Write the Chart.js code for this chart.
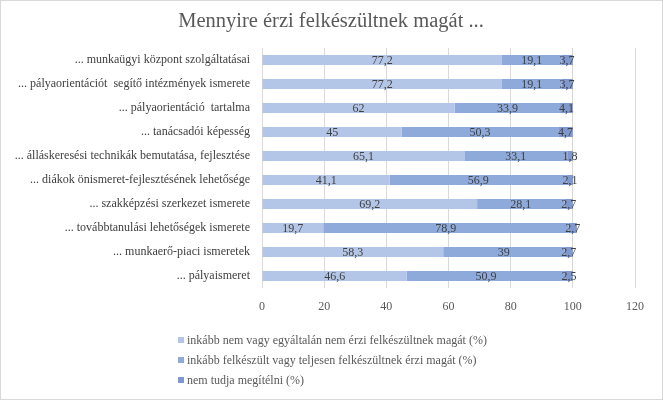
<!DOCTYPE html>
<html>
<head>
<meta charset="utf-8">
<script src="https://cdn.jsdelivr.net/npm/chart.js@4/dist/chart.umd.min.js"></script>
<style>
  html, body { margin: 0; padding: 0; background: #fff; }
  #wrap { width: 663px; height: 400px; position: relative; }
</style>
</head>
<body>
<div id="wrap"><canvas id="c" width="663" height="400"></canvas></div>
<script>
const titleText = 'Mennyire érzi felkészültnek magát ...';
const categories = [
  '... munkaügyi központ szolgáltatásai',
  '... pályaorientációt  segítő intézmények ismerete',
  '... pályaorientáció  tartalma',
  '... tanácsadói képesség',
  '... álláskeresési technikák bemutatása, fejlesztése',
  '... diákok önismeret-fejlesztésének lehetősége',
  '... szakképzési szerkezet ismerete',
  '... továbbtanulási lehetőségek ismerete',
  '... munkaerő-piaci ismeretek',
  '... pályaismeret'
];
const seriesNames = [
  'inkább nem vagy egyáltalán nem érzi felkészültnek magát (%)',
  'inkább felkészült vagy teljesen felkészültnek érzi magát (%)',
  'nem tudja megítélni (%)'
];
const notPrepared = [77.2, 77.2, 62, 45, 65.1, 41.1, 69.2, 19.7, 58.3, 46.6];
const prepared    = [19.1, 19.1, 33.9, 50.3, 33.1, 56.9, 28.1, 78.9, 39, 50.9];
const cannotTell  = [3.7, 3.7, 4.1, 4.7, 1.8, 2.1, 2.7, 2.7, 2.7, 2.5];
const xTicks = [0, 20, 40, 60, 80, 100, 120];

const colors = ['#b4c6e7', '#8eaadb', '#7f99cf'];
const FONT = "'Liberation Serif', 'Times New Roman', serif";

const valueLabels = {
  id: 'valueLabels',
  afterDatasetsDraw(chart) {
    const ctx = chart.ctx;
    ctx.save();
    ctx.font = '12px ' + FONT;
    ctx.fillStyle = '#404040';
    ctx.textAlign = 'center';
    ctx.textBaseline = 'middle';
    chart.data.datasets.forEach((ds, di) => {
      const meta = chart.getDatasetMeta(di);
      meta.data.forEach((bar, i) => {
        const v = ds.data[i];
        const p = bar.getProps(['x', 'y', 'base'], true);
        const cx = (p.x + p.base) / 2;
        ctx.fillText(String(v).replace('.', ','), cx, p.y + 1);
      });
    });
    ctx.restore();
  }
};

const decorations = {
  id: 'decorations',
  afterDraw(chart) {
    const ctx = chart.ctx;
    ctx.save();
    // title
    ctx.font = '20.5px ' + FONT;
    ctx.fillStyle = '#595959';
    ctx.textAlign = 'center';
    ctx.textBaseline = 'middle';
    ctx.fillText(titleText, 331, 22);
    // legend
    ctx.font = '12px ' + FONT;
    ctx.textAlign = 'left';
    const ys = [340, 360, 380];
    seriesNames.forEach((name, i) => {
      ctx.fillStyle = colors[i];
      ctx.fillRect(178, ys[i] - 3, 6, 6);
      ctx.fillStyle = '#595959';
      ctx.fillText(name, 187, ys[i] + 1);
    });
    // outer border
    ctx.strokeStyle = '#d9d9d9';
    ctx.lineWidth = 1;
    ctx.strokeRect(0.5, 0.5, chart.width - 1, chart.height - 1);
    ctx.restore();
  }
};

const bgPlugin = {
  id: 'bg',
  beforeDraw(chart) {
    const ctx = chart.ctx;
    ctx.save();
    ctx.fillStyle = '#ffffff';
    ctx.fillRect(0, 0, chart.width, chart.height);
    ctx.restore();
  }
};

new Chart(document.getElementById('c'), {
  type: 'bar',
  data: {
    labels: categories,
    datasets: [
      { label: seriesNames[0], data: notPrepared, backgroundColor: colors[0] },
      { label: seriesNames[1], data: prepared, backgroundColor: colors[1] },
      { label: seriesNames[2], data: cannotTell, backgroundColor: colors[2] }
    ]
  },
  options: {
    indexAxis: 'y',
    responsive: false,
    animation: false,
    devicePixelRatio: 1,
    layout: { padding: { left: 0, right: 28, top: 48, bottom: 86 } },
    datasets: { bar: { categoryPercentage: 0.42, barPercentage: 1, borderWidth: 0 } },
    plugins: {
      legend: { display: false },
      tooltip: { enabled: false },
      title: { display: false }
    },
    scales: {
      x: {
        stacked: true,
        min: 0,
        max: 120,
        afterBuildTicks(scale) { scale.ticks = xTicks.map(v => ({ value: v })); },
        afterFit(scale) { scale.height = 26; },
        grid: { color: '#d9d9d9', drawTicks: false },
        border: { display: false },
        ticks: { color: '#595959', font: { family: FONT, size: 12 }, padding: 12 }
      },
      y: {
        stacked: true,
        afterFit(scale) { scale.width = 262; },
        grid: { display: false, drawTicks: false },
        border: { display: false },
        ticks: { color: '#404040', font: { family: FONT, size: 12 }, padding: 12 }
      }
    }
  },
  plugins: [bgPlugin, valueLabels, decorations]
});
</script>
</body>
</html>
